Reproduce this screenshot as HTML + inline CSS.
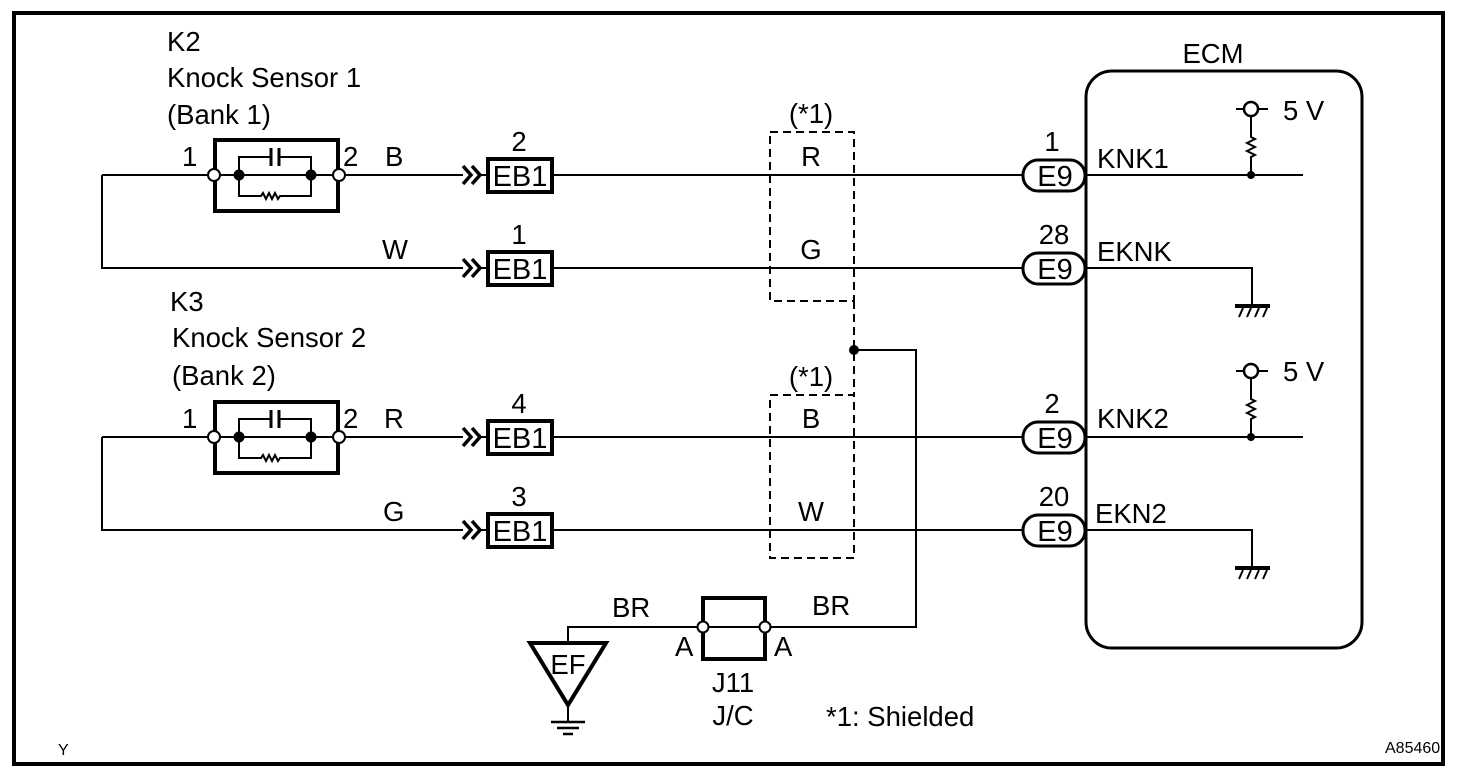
<!DOCTYPE html>
<html><head><meta charset="utf-8"><style>
html,body{margin:0;padding:0;background:#fff;}
svg{display:block;}
text{font-family:"Liberation Sans",Arial,sans-serif;fill:#000;}
</style></head><body>
<svg width="1472" height="776" viewBox="0 0 1472 776" xmlns="http://www.w3.org/2000/svg">
<defs>
<g id="sensor">
  <rect x="215" y="-35" width="123" height="71" fill="none" stroke="#000" stroke-width="4"/>
  <line x1="214" y1="0" x2="339" y2="0" stroke="#000" stroke-width="2"/>
  <path d="M239 0 V-18 H271 M279 -18 H311 V0 M239 0 V21 H261 l2 -3 l3 6 l3 -6 l3 6 l3 -6 l3 6 l2 -3 H311 V0" fill="none" stroke="#000" stroke-width="2"/>
  <line x1="271" y1="-27" x2="271" y2="-9" stroke="#000" stroke-width="3"/>
  <line x1="279" y1="-27" x2="279" y2="-9" stroke="#000" stroke-width="3"/>
  <circle cx="214" cy="0" r="6" fill="#fff" stroke="#000" stroke-width="2"/>
  <circle cx="339" cy="0" r="6" fill="#fff" stroke="#000" stroke-width="2"/>
  <circle cx="239" cy="0" r="5.5" fill="#000"/>
  <circle cx="311" cy="0" r="5.5" fill="#000"/>
</g>
<g id="eb1">
  <path d="M463 -9 L471 0 L463 9 M472 -9 L480 0 L472 9" fill="none" stroke="#000" stroke-width="3.5"/>
  <line x1="480" y1="0" x2="487" y2="0" stroke="#000" stroke-width="2"/>
  <rect x="488" y="-16" width="64" height="33" fill="#fff" stroke="#000" stroke-width="4"/>
  <text x="520" y="11" font-size="29" text-anchor="middle">EB1</text>
</g>
<g id="e9">
  <rect x="1023" y="-15" width="62" height="31" rx="15" fill="#fff" stroke="#000" stroke-width="3"/>
  <text x="1055" y="11" font-size="29" text-anchor="middle">E9</text>
</g>
<g id="gnd">
  <line x1="1235" y1="0" x2="1270" y2="0" stroke="#000" stroke-width="4"/>
  <path d="M1239 11 L1243 2 M1247 11 L1251 2 M1255 11 L1259 2 M1263 11 L1267 2" stroke="#000" stroke-width="2"/>
</g>
<g id="pull">
  <line x1="1236" y1="0" x2="1268" y2="0" stroke="#000" stroke-width="2"/>
  <circle cx="1251" cy="0" r="7" fill="#fff" stroke="#000" stroke-width="2.5"/>
  <path d="M1251 7 V28 l4 2 l-8 4 l8 4 l-8 4 l8 4 l-4 2 V66" fill="none" stroke="#000" stroke-width="2"/>
  <circle cx="1251" cy="66" r="4" fill="#000"/>
</g>
</defs>

<rect x="14" y="13" width="1429" height="751" fill="none" stroke="#000" stroke-width="4"/>

<g font-size="27.5">
<text x="167" y="51">K2</text>
<text x="167" y="87">Knock Sensor 1</text>
<text x="167" y="124">(Bank 1)</text>
<text x="170" y="311">K3</text>
<text x="172" y="347">Knock Sensor 2</text>
<text x="172" y="385">(Bank 2)</text>
</g>

<g stroke="#000" stroke-width="2" fill="none">
  <path d="M102 175 H214 M102 175 V268 H463"/>
  <path d="M339 175 H463"/>
  <path d="M552 175 H1023 M552 268 H1023"/>
  <path d="M102 437 H214 M102 437 V530 H463"/>
  <path d="M339 437 H463"/>
  <path d="M552 437 H1023 M552 530 H1023"/>
  <path d="M1085 175 H1303 M1085 437 H1303"/>
  <path d="M1085 268 H1252 V306 M1085 530 H1252 V568"/>
  <path d="M854 350 H916 V627 H765"/>
  <path d="M703 627 H568 V642"/>
  <path d="M568 706 V722"/>
</g>

<use href="#sensor" transform="translate(0,175)"/>
<use href="#sensor" transform="translate(0,437)"/>
<use href="#eb1" transform="translate(0,175)"/>
<use href="#eb1" transform="translate(0,268)"/>
<use href="#eb1" transform="translate(0,437)"/>
<use href="#eb1" transform="translate(0,530)"/>

<g font-size="27.5">
<text x="182" y="166">1</text>
<text x="343" y="166">2</text>
<text x="385" y="166">B</text>
<text x="382" y="259">W</text>
<text x="182" y="428">1</text>
<text x="343" y="428">2</text>
<text x="384" y="428">R</text>
<text x="383" y="521">G</text>
<text x="519" y="151" text-anchor="middle">2</text>
<text x="519" y="244" text-anchor="middle">1</text>
<text x="519" y="413" text-anchor="middle">4</text>
<text x="519" y="506" text-anchor="middle">3</text>
</g>

<g stroke="#000" stroke-width="2" fill="none" stroke-dasharray="8,5">
  <path d="M770 132 H854 V301 H770 Z"/>
  <path d="M854 301 V395"/>
  <path d="M770 395 H854 V558 H770 Z"/>
</g>
<circle cx="854" cy="350" r="5" fill="#000"/>
<g font-size="27.5" text-anchor="middle">
<text x="811" y="123">(*1)</text>
<text x="811" y="386">(*1)</text>
<text x="811" y="166">R</text>
<text x="811" y="259">G</text>
<text x="811" y="428">B</text>
<text x="811" y="521">W</text>
</g>

<rect x="1086" y="71" width="276" height="577" rx="26" fill="none" stroke="#000" stroke-width="3"/>
<text x="1213" y="63" font-size="27.5" text-anchor="middle">ECM</text>
<use href="#e9" transform="translate(0,175)"/>
<use href="#e9" transform="translate(0,268)"/>
<use href="#e9" transform="translate(0,437)"/>
<use href="#e9" transform="translate(0,530)"/>
<g font-size="27.5">
<text x="1052" y="151" text-anchor="middle">1</text>
<text x="1054" y="244" text-anchor="middle">28</text>
<text x="1052" y="413" text-anchor="middle">2</text>
<text x="1054" y="506" text-anchor="middle">20</text>
<text x="1097" y="168">KNK1</text>
<text x="1097" y="261">EKNK</text>
<text x="1097" y="428">KNK2</text>
<text x="1095" y="523">EKN2</text>
<text x="1283" y="120">5 V</text>
<text x="1283" y="381">5 V</text>
</g>
<use href="#pull" transform="translate(0,109)"/>
<use href="#pull" transform="translate(0,371)"/>
<use href="#gnd" transform="translate(0,306)"/>
<use href="#gnd" transform="translate(0,568)"/>

<rect x="703" y="598" width="62" height="61" fill="none" stroke="#000" stroke-width="4"/>
<line x1="703" y1="627" x2="765" y2="627" stroke="#000" stroke-width="2"/>
<circle cx="703" cy="627" r="5.5" fill="#fff" stroke="#000" stroke-width="2"/>
<circle cx="765" cy="627" r="5.5" fill="#fff" stroke="#000" stroke-width="2"/>
<g font-size="27.5">
<text x="675" y="656">A</text>
<text x="774" y="656">A</text>
<text x="612" y="617">BR</text>
<text x="812" y="615">BR</text>
<text x="733" y="692" text-anchor="middle">J11</text>
<text x="733" y="725" text-anchor="middle">J/C</text>
<text x="826" y="726">*1: Shielded</text>
</g>

<path d="M530 643 H606 L568 705 Z" fill="#fff" stroke="#000" stroke-width="4"/>
<text x="568" y="674" font-size="27.5" text-anchor="middle">EF</text>
<path d="M551 722 H585 M557 728 H579 M563 734 H573" stroke="#000" stroke-width="2.5"/>

<text x="58" y="755" font-size="16">Y</text>
<text x="1385" y="753" font-size="16">A85460</text>
</svg>
</body></html>
